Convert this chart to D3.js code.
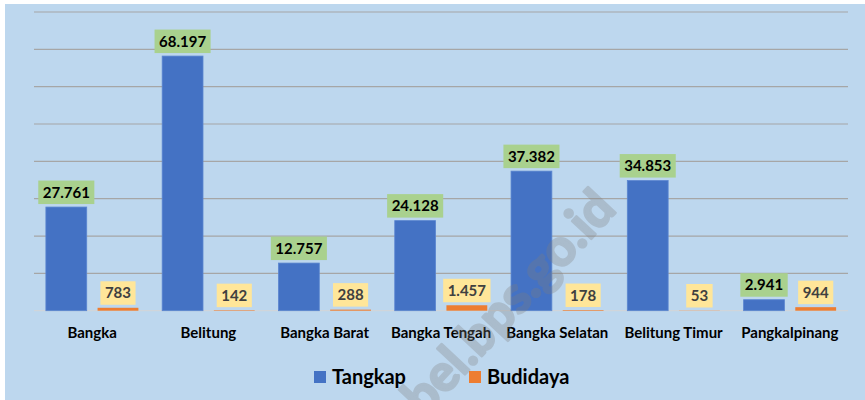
<!DOCTYPE html>
<html>
<head>
<meta charset="utf-8">
<script src="https://cdn.jsdelivr.net/npm/d3@7"></script>
<style>
  body { margin: 0; background: #fff; }
  svg { display: block; font-family: Lato, "Open Sans", sans-serif; }
</style>
</head>
<body>
<div id="chart"></div>
<script>
var categories = ["Bangka", "Belitung", "Bangka Barat", "Bangka Tengah", "Bangka Selatan", "Belitung Timur", "Pangkalpinang"];
var tangkap = [27761, 68197, 12757, 24128, 37382, 34853, 2941];
var budidaya = [783, 142, 288, 1457, 178, 53, 944];
var keys = ["Tangkap", "Budidaya"];
var yTicks = [0, 10000, 20000, 30000, 40000, 50000, 60000, 70000, 80000];

var width = 865, height = 400;
var margin = {top: 12, right: 17, bottom: 89.3, left: 34};

var svg = d3.select("#chart").append("svg")
  .attr("width", width)
  .attr("height", height);

svg.append("rect")
  .attr("x", 5).attr("y", 4)
  .attr("width", width - 5).attr("height", height - 4)
  .attr("fill", "#BDD7EE");

var x0 = d3.scaleBand()
  .domain(categories)
  .range([margin.left, width - margin.right]);

var x1 = d3.scaleBand()
  .domain(keys)
  .range([0, x0.bandwidth()])
  .paddingInner(0.21)
  .paddingOuter(0.23);

var y = d3.scaleLinear()
  .domain([0, 80000])
  .range([height - margin.bottom, margin.top]);

var color = d3.scaleOrdinal()
  .domain(keys)
  .range(["#4472C4", "#ED7D31"]);

var fmt = d3.formatLocale({decimal: ",", thousands: ".", grouping: [3], currency: ["", ""]}).format(",d");

// gridlines
svg.append("g")
  .selectAll("line")
  .data(yTicks)
  .enter()
  .append("line")
  .attr("x1", margin.left)
  .attr("x2", width - margin.right)
  .attr("y1", function(d) { return y(d); })
  .attr("y2", function(d) { return y(d); })
  .attr("stroke", function(d) { return d === 0 ? "#D0D5DA" : "#A6A6A6"; })
  .attr("stroke-width", 1.2);

var data = [];
categories.forEach(function(c, i) {
  data.push({cat: c, key: "Tangkap", value: tangkap[i]});
  data.push({cat: c, key: "Budidaya", value: budidaya[i]});
});

svg.append("g")
  .selectAll("rect")
  .data(data)
  .enter()
  .append("rect")
  .attr("x", function(d) { return x0(d.cat) + x1(d.key); })
  .attr("y", function(d) { return y(d.value); })
  .attr("width", x1.bandwidth())
  .attr("height", function(d) { return y(0) - y(d.value); })
  .attr("fill", function(d) { return color(d.key); })
  .attr("stroke", function(d) { return d.key === "Tangkap" ? "#5B86D0" : "none"; })
  .attr("stroke-width", 0.8);

// data labels with boxes
var labels = svg.append("g")
  .selectAll("g")
  .data(data)
  .enter()
  .append("g");

labels.each(function(d) {
  var g = d3.select(this);
  var cx = x0(d.cat) + x1(d.key) + x1.bandwidth() / 2;
  var bottom = y(d.value) - 3;
  var t = g.append("text")
    .attr("x", cx)
    .attr("y", bottom - 6.5)
    .attr("text-anchor", "middle")
    .attr("font-size", "15px")
    .attr("font-weight", "bold")
    .attr("fill", d.key === "Tangkap" ? "#000" : "#404040")
    .text(fmt(d.value));
  var w = t.node().getComputedTextLength();
  g.insert("rect", "text")
    .attr("x", cx - w / 2 - 4.5)
    .attr("y", bottom - 23.5)
    .attr("width", w + 9)
    .attr("height", 23.5)
    .attr("fill", d.key === "Tangkap" ? "#A9D18E" : "#FFE699");
});

// category labels
svg.append("g")
  .selectAll("text")
  .data(categories)
  .enter()
  .append("text")
  .attr("x", function(d) { return x0(d) + x0.bandwidth() / 2; })
  .attr("y", 338)
  .attr("text-anchor", "middle")
  .attr("font-size", "15px")
  .attr("font-weight", "bold")
  .attr("fill", "#000")
  .text(function(d) { return d; });

// legend
var legendX = [314, 469];
var legend = svg.append("g")
  .selectAll("g")
  .data(keys)
  .enter()
  .append("g")
  .attr("transform", function(d, i) { return "translate(" + legendX[i] + ",371)"; });

legend.append("rect")
  .attr("width", 12).attr("height", 12)
  .attr("fill", function(d) { return color(d); });

legend.append("text")
  .attr("x", 18)
  .attr("y", 13)
  .attr("font-size", "20px")
  .attr("font-weight", "bold")
  .attr("fill", "#000")
  .text(function(d) { return d; });

// watermark
svg.append("text")
  .attr("transform", "translate(508,302) rotate(-47)")
  .attr("text-anchor", "middle")
  .attr("dy", "0.35em")
  .attr("font-size", "51px")
  .attr("font-weight", "bold")
  .attr("fill", "#7F7F7F")
  .attr("stroke", "#7F7F7F")
  .attr("stroke-width", 2.5)
  .attr("stroke-linejoin", "round")
  .attr("opacity", 0.3)
  .text("bel.bps.go.id");
</script>
</body>
</html>
